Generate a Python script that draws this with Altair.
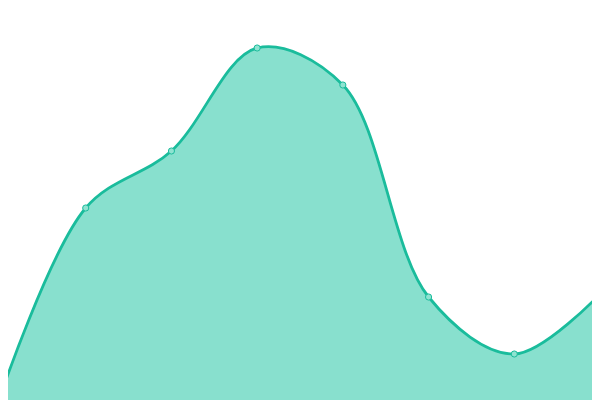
import altair as alt
import pandas as pd

idx = [0, 1, 2, 3, 4, 5, 6, 7]
values = [3, 192, 249, 352, 315, 103, 46, 106]

df = pd.DataFrame({"i": idx, "v": values})

x = alt.X("i:Q", axis=None, scale=alt.Scale(domain=[0, 7], range=[-8, 592], nice=False, zero=False))
y = alt.Y("v:Q", axis=None, scale=alt.Scale(domain=[0, 400], range=[392, -8], nice=False))

base = alt.Chart(df).encode(x=x, y=y)

area = base.mark_area(color="#88e0ce", opacity=1, interpolate="catmull-rom", clip=False)
line = base.mark_line(color="#1abc9c", strokeWidth=2.8, interpolate="catmull-rom", clip=False)
pts = base.mark_point(filled=True, fill="#8fe3d1", stroke="#1abc9c", strokeWidth=1, size=38, opacity=1, clip=False)

chart = alt.layer(area, line, pts).properties(
    width=584, height=384,
    padding={"left": 0, "top": 0, "right": 0, "bottom": 8},
    autosize=alt.AutoSizeParams(type="none"),
).configure_view(stroke=None)

chart.save("out.html", embed_options={"renderer": "svg", "actions": False})
